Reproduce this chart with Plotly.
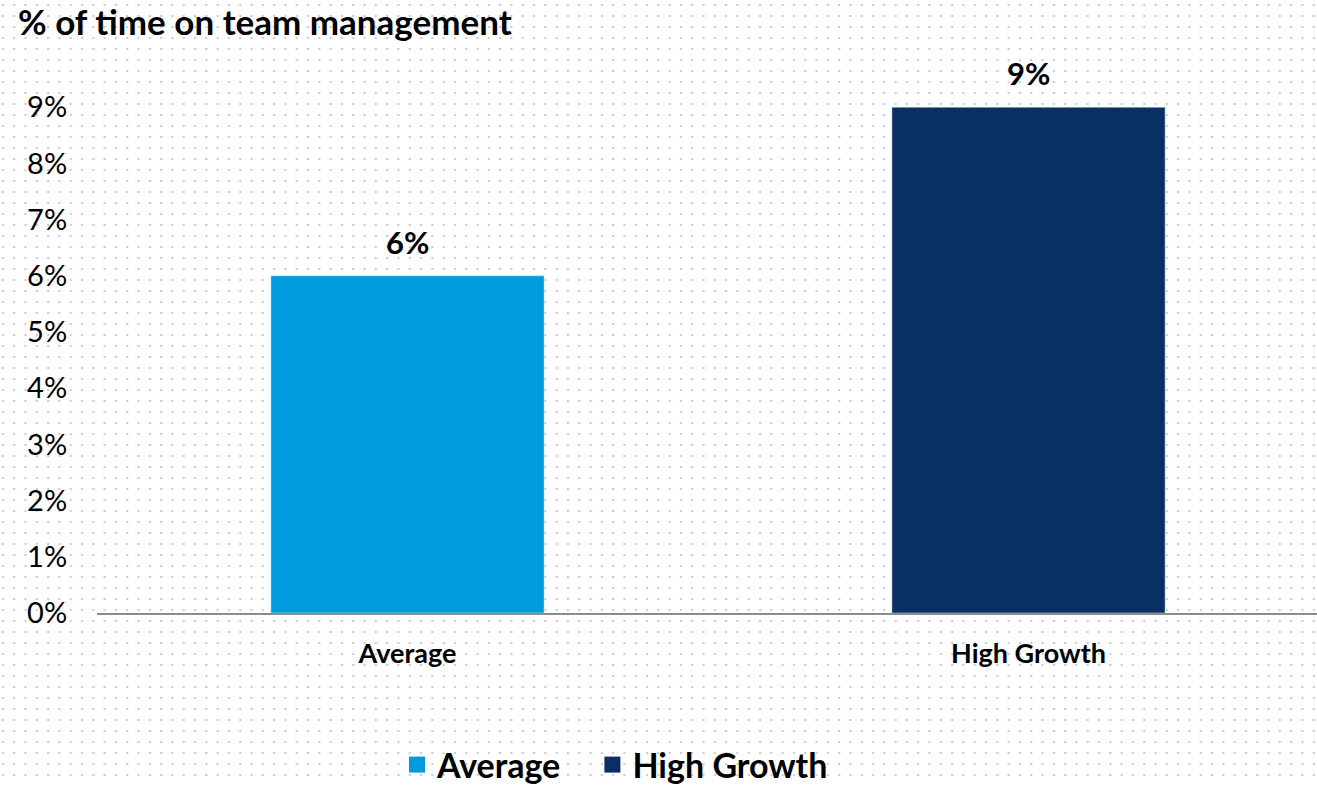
import base64
import plotly.graph_objects as go

categories = ['Average', 'High Growth']
values = [0.06, 0.09]
colors = ['#009ADE', '#0A2F63']
y_ticks = [0, 0.01, 0.02, 0.03, 0.04, 0.05, 0.06, 0.07, 0.08, 0.09]
y_labels = ['0%', '1%', '2%', '3%', '4%', '5%', '6%', '7%', '8%', '9%']

FONT = 'Lato'
W, H = 1317, 785
L, R, T, B = 97, 0, 51, 172

# dotted paper background as an svg pattern
svg = (
    f'<svg xmlns="http://www.w3.org/2000/svg" width="{W}" height="{H}">'
    '<defs><pattern id="d" width="11.3" height="11" patternUnits="userSpaceOnUse">'
    '<rect x="2" y="4" width="2" height="2" fill="#c9c9c9"/></pattern></defs>'
    f'<rect width="{W}" height="{H}" fill="white"/>'
    f'<rect width="{W}" height="{H}" fill="url(#d)"/></svg>'
)
bg = 'data:image/svg+xml;base64,' + base64.b64encode(svg.encode()).decode()

fig = go.Figure()
for cat, val, col in zip(categories, values, colors):
    fig.add_trace(go.Bar(x=[cat], y=[val], marker_color=col, width=0.44,
                         showlegend=False, hoverinfo='skip'))
    fig.add_annotation(x=cat, y=val, text=f'<b>{val:.0%}</b>', showarrow=False,
                       yanchor='bottom', yshift=13, font=dict(family=FONT, size=31, color='black'))
    # legend entry with a bigger square swatch
    fig.add_trace(go.Scatter(x=[None], y=[None], mode='markers',
                             name=f'<b>{cat}</b>&nbsp;&nbsp;&nbsp;',
                             marker=dict(symbol='square', size=16, color=col)))

pw = W - L - R
ph = H - T - B
fig.add_layout_image(source=bg, xref='paper', yref='paper', x=-L / pw, y=1 + T / ph,
                     sizex=W / pw, sizey=H / ph, xanchor='left', yanchor='top',
                     sizing='stretch', layer='below')

fig.update_layout(
    width=W, height=H,
    margin=dict(l=L, r=R, t=T, b=B, autoexpand=False),
    paper_bgcolor='white', plot_bgcolor='rgba(0,0,0,0)',
    font=dict(family=FONT, color='black'),
    title=dict(text='<b>% of time on team management</b>', x=18 / W, xanchor='left',
               y=1 - 23 / H, yanchor='middle', font=dict(family=FONT, size=35, color='black')),
    barmode='overlay',
    showlegend=True,
    legend=dict(orientation='h', x=(397 - L) / pw, xanchor='left', y=-(765 - T - ph) / ph,
                yanchor='middle', font=dict(family=FONT, size=34, color='black'),
                itemwidth=30, bgcolor='rgba(0,0,0,0)', traceorder='normal'),
    xaxis=dict(range=[-0.5, -0.5 + pw / 621], showgrid=False, zeroline=False,
               showline=True, linecolor='#8c8c8c', linewidth=2,
               ticks='outside', ticklen=16, tickcolor='rgba(0,0,0,0)',
               tickvals=categories, ticktext=[f'<b>{c}</b>' for c in categories],
               tickfont=dict(family=FONT, size=27, color='black'), fixedrange=True),
    yaxis=dict(range=[0, 0.1], tickvals=y_ticks, ticktext=y_labels, showgrid=False,
               zeroline=False, showline=False, ticks='outside', ticklen=23,
               tickcolor='rgba(0,0,0,0)', tickfont=dict(family=FONT, size=29, color='black'),
               fixedrange=True),
)

fig.write_html('out.html', config={'displayModeBar': False},
               post_script="document.body.style.margin='0';document.body.style.overflow='hidden';")
